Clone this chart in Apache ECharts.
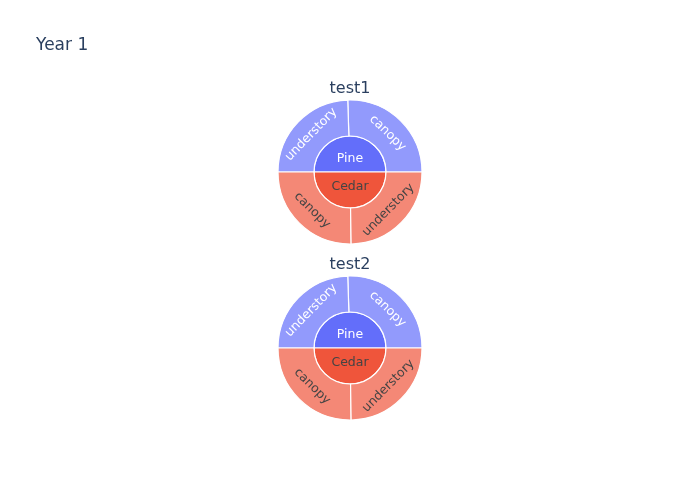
<!DOCTYPE html>
<html>
<head>
<meta charset="utf-8">
<script src="https://cdn.jsdelivr.net/npm/echarts@6/dist/echarts.min.js"></script>
<style>html,body{margin:0;padding:0;background:#fff}#c{width:700px;height:500px}</style>
</head>
<body>
<div id="c"></div>
<script>
var parents = ['Pine', 'Cedar'];
var children = ['canopy', 'understory'];
var test1Pine = [51, 49];
var test1Cedar = [50.5, 49.5];
var test2Pine = [51, 49];
var test2Cedar = [50.5, 49.5];
var subTitles = ['test1', 'test2'];

var FONT = '"DejaVu Sans", Verdana, sans-serif';
var parentColors = ['#636efa', '#EF553B'];
var leafColors = ['#929afc', '#f48876'];
var textColors = ['#ffffff', '#444444'];

function build(pineVals, cedarVals) {
  var vals = [pineVals, cedarVals];
  return parents.map(function (p, i) {
    return {
      name: p,
      itemStyle: { color: parentColors[i] },
      label: { color: textColors[i] },
      children: children.map(function (c, j) {
        return {
          name: c,
          value: vals[i][j],
          itemStyle: { color: leafColors[i] },
          label: { color: textColors[i] }
        };
      })
    };
  });
}

function innerFormatter(p) {
  if (p.name === parents[0]) return '{s|}\n{w|' + p.name + '}';
  return '{d|' + p.name + '}\n{s2|}';
}

function series(center, data) {
  return {
    type: 'sunburst',
    center: center,
    radius: [0, 72],
    startAngle: 0,
    clockwise: false,
    sort: null,
    nodeClick: false,
    emphasis: { disabled: true },
    data: data,
    itemStyle: { borderColor: '#ffffff', borderWidth: 1.2 },
    label: { fontFamily: FONT, fontSize: 12.5 },
    levels: [
      {},
      { r0: 0, r: 36, label: {
          rotate: 0,
          formatter: innerFormatter,
          rich: {
            s: { lineHeight: 10, fontSize: 1 },
            s2: { lineHeight: 6, fontSize: 1 },
            w: { lineHeight: 14, fontSize: 12.5, fontFamily: FONT, color: textColors[0] },
            d: { lineHeight: 14, fontSize: 12.5, fontFamily: FONT, color: textColors[1] }
          }
        } },
      { r0: 36, r: 72, label: { rotate: 'tangential' } }
    ]
  };
}

var chart = echarts.init(document.getElementById('c'), null, { renderer: 'canvas' });
chart.setOption({
  animation: false,
  backgroundColor: '#ffffff',
  title: [
    { text: 'Year 1', left: 31, top: 32, textStyle: { fontFamily: FONT, fontSize: 17, fontWeight: 'normal', color: '#2a3f5f' } },
    { text: subTitles[0], left: 'center', top: 76, textStyle: { fontFamily: FONT, fontSize: 16, fontWeight: 'normal', color: '#2a3f5f' } },
    { text: subTitles[1], left: 'center', top: 252, textStyle: { fontFamily: FONT, fontSize: 16, fontWeight: 'normal', color: '#2a3f5f' } }
  ],
  series: [
    series([350, 172], build(test1Pine, test1Cedar)),
    series([350, 348], build(test2Pine, test2Cedar))
  ]
});
</script>
</body>
</html>
